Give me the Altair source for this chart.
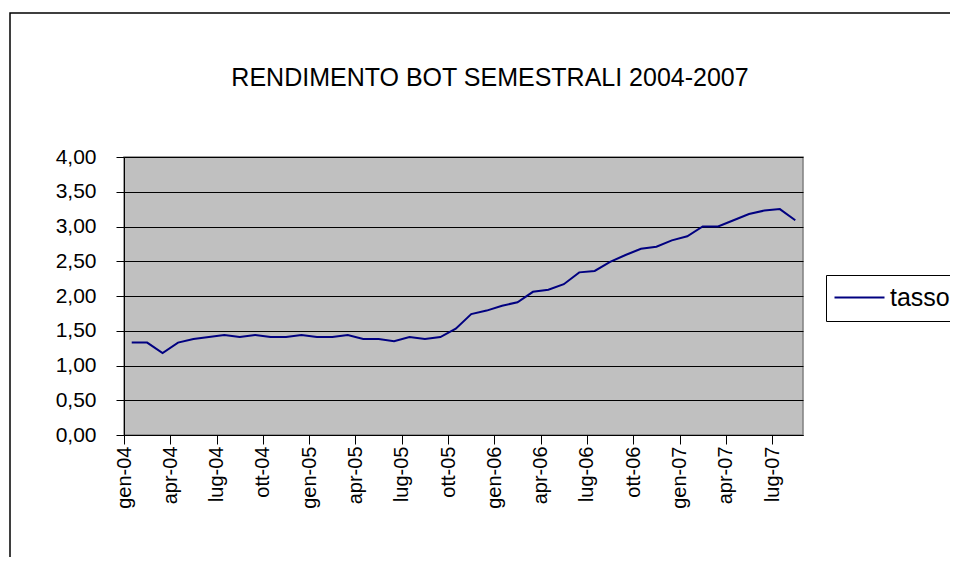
import altair as alt
import pandas as pd

# ---- data ----
mesi_nomi = ["gen", "feb", "mar", "apr", "mag", "giu", "lug", "ago", "set", "ott", "nov", "dic"]
anni = ["04", "05", "06", "07"]
tassi = [1.33, 1.33, 1.18, 1.33, 1.38, 1.41, 1.44, 1.41, 1.44, 1.41, 1.41, 1.44,
         1.41, 1.41, 1.44, 1.38, 1.38, 1.35, 1.41, 1.38, 1.41, 1.53, 1.74, 1.79,
         1.86, 1.91, 2.06, 2.09, 2.17, 2.34, 2.36, 2.49, 2.59, 2.68, 2.71, 2.80,
         2.86, 3.00, 3.00, 3.09, 3.18, 3.23, 3.25, 3.09]
etichette_x = ["gen-04", "apr-04", "lug-04", "ott-04", "gen-05", "apr-05", "lug-05", "ott-05",
               "gen-06", "apr-06", "lug-06", "ott-06", "gen-07", "apr-07", "lug-07"]
valori_y = [0, 0.5, 1, 1.5, 2, 2.5, 3, 3.5, 4]
titolo = "RENDIMENTO BOT SEMESTRALI 2004-2007"
serie = "tasso"

mesi = [f"{m}-{a}" for a in anni for m in mesi_nomi][:len(tassi)]
df = pd.DataFrame({"mese": mesi, "idx": list(range(len(tassi))), "tasso": tassi, "serie": serie})

FONT = "Liberation Sans"
W, H = 679, 278

tick_vals = [k * 3 - 0.5 for k in range(len(etichette_x))]
label_expr = "[" + ",".join(f"'{s}'" for s in etichette_x) + "][round((datum.value + 0.5) / 3)]"

line = alt.Chart(df).mark_line(strokeWidth=2, clip=False).encode(
    x=alt.X("idx:Q", scale=alt.Scale(domain=[-0.5, len(tassi) - 0.5], nice=False, zero=False),
            axis=alt.Axis(values=tick_vals, labelExpr=label_expr, labelAngle=-90, title=None,
                          grid=False, tickSize=9, labelPadding=2, labelFontSize=20,
                          domainColor="black", tickColor="black", labelColor="black",
                          labelFont=FONT, labelOverlap=False)),
    y=alt.Y("tasso:Q", scale=alt.Scale(domain=[0, 4], nice=False),
            axis=alt.Axis(values=valori_y, title=None, grid=True, gridColor="black", gridWidth=1,
                          tickSize=8, labelPadding=20, labelFontSize=21, labelFont=FONT,
                          labelExpr="replace(format(datum.value, '.2f'), '.', ',')",
                          domainColor="black", tickColor="black", labelColor="black")),
    color=alt.Color("serie:N", scale=alt.Scale(domain=[serie], range=["#000080"]),
                    legend=alt.Legend(title=None, orient="none", legendX=702, legendY=118,
                                      strokeColor="black", fillColor="white", padding=10,
                                      symbolType="M-1.4,0H3.6", symbolSize=400, symbolStrokeWidth=2,
                                      symbolFillColor="transparent",
                                      labelFont=FONT, labelFontSize=25, labelColor="black",
                                      labelOffset=29)),
)

one = pd.DataFrame({"t": [titolo]})

border = alt.Chart(one).mark_rect(filled=False, stroke="black", strokeWidth=1.5, clip=False).encode(
    x=alt.value(-114), x2=alt.value(900), y=alt.value(-144), y2=alt.value(520)
)

title = alt.Chart(one).mark_text(font=FONT, fontSize=25, color="black", align="center",
                                  baseline="alphabetic", clip=False).encode(
    text="t:N", x=alt.value(366), y=alt.value(-71)
)

chart = alt.layer(border, title, line).properties(
    width=W, height=H,
    background="white",
    autosize=alt.AutoSizeParams(type="none"),
    padding={"left": 116, "top": 149, "right": 147, "bottom": 122},
).configure_view(
    fill="#C0C0C0", stroke="#808080", strokeWidth=1.5
)

chart.save("out.html", embed_options={"renderer": "svg", "actions": False})
